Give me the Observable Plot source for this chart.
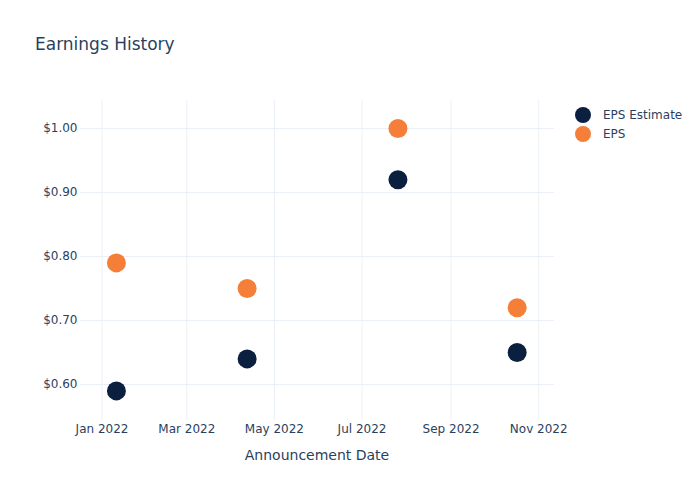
<!DOCTYPE html>
<html>
<head>
<meta charset="utf-8">
<script src="https://cdn.jsdelivr.net/npm/d3@7"></script>
<script src="https://cdn.jsdelivr.net/npm/@observablehq/plot@0.6"></script>
<style>
  body { margin: 0; background: #fff; font-family: "DejaVu Sans", sans-serif; }
  #wrap { position: relative; width: 700px; height: 500px; }
  #title { position: absolute; left: 35px; top: 34px; font-size: 17px; color: #2a3f5f; }
  #xlabel { position: absolute; left: 80px; width: 474px; top: 447px; text-align: center; font-size: 14px; color: #2a3f5f; }
  #legend { position: absolute; left: 574px; top: 105px; font-size: 12px; color: #2a3f5f; }
  .li { display: flex; align-items: center; height: 19px; }
  .li svg { margin-right: 11px; }
</style>
</head>
<body>
<div id="wrap">
  <div id="chart"></div>
  <div id="title">Earnings History</div>
  <div id="xlabel">Announcement Date</div>
  <div id="legend"></div>
</div>
<script>
const dates = ["2022-01-11", "2022-04-12", "2022-07-26", "2022-10-17"];
const epsEstimate = [0.59, 0.64, 0.92, 0.65];
const epsActual = [0.79, 0.75, 1.00, 0.72];
const seriesNames = ["EPS Estimate", "EPS"];
const seriesColors = ["#0b1f3f", "#f57f38"];
const yTicks = [0.6, 0.7, 0.8, 0.9, 1.0];
const xTicks = ["2022-01-01", "2022-03-01", "2022-05-01", "2022-07-01", "2022-09-01", "2022-11-01"];

const parse = d3.utcParse("%Y-%m-%d");
const rows = [];
dates.forEach((d, i) => {
  rows.push({date: parse(d), value: epsEstimate[i], series: seriesNames[0]});
});
dates.forEach((d, i) => {
  rows.push({date: parse(d), value: epsActual[i], series: seriesNames[1]});
});

const grid = "#ebf0f8";
const chart = Plot.plot({
  width: 700,
  height: 500,
  marginLeft: 80,
  marginRight: 146,
  marginTop: 100,
  marginBottom: 80,
  style: {fontFamily: "DejaVu Sans, sans-serif", fontSize: "12px", color: "#2a3f5f", background: "#fff"},
  x: {type: "utc", domain: [parse("2021-12-17"), parse("2022-11-12")]},
  y: {domain: [0.54375, 1.04375]},
  color: {domain: seriesNames, range: seriesColors},
  marks: [
    Plot.gridX(xTicks.map(parse), {stroke: grid, strokeOpacity: 1}),
    Plot.gridY(yTicks, {stroke: grid, strokeOpacity: 1}),
    Plot.axisX(xTicks.map(parse), {tickSize: 0, tickPadding: 4, tickFormat: d3.utcFormat("%b %Y"), label: null, fill: "#2a3f5f", fontSize: 12}),
    Plot.axisY(yTicks, {tickSize: 0, tickPadding: 3, tickFormat: d => "$" + d.toFixed(2), label: null, fill: "#2a3f5f", fontSize: 12}),
    Plot.dot(rows, {x: "date", y: "value", fill: "series", r: 9.5})
  ]
});
document.getElementById("chart").appendChild(chart);

const legend = document.getElementById("legend");
seriesNames.forEach((name, i) => {
  const div = document.createElement("div");
  div.className = "li";
  div.innerHTML = `<svg width="18" height="18"><circle cx="9" cy="9" r="8" fill="${seriesColors[i]}"></circle></svg><span>${name}</span>`;
  legend.appendChild(div);
});
</script>
</body>
</html>
